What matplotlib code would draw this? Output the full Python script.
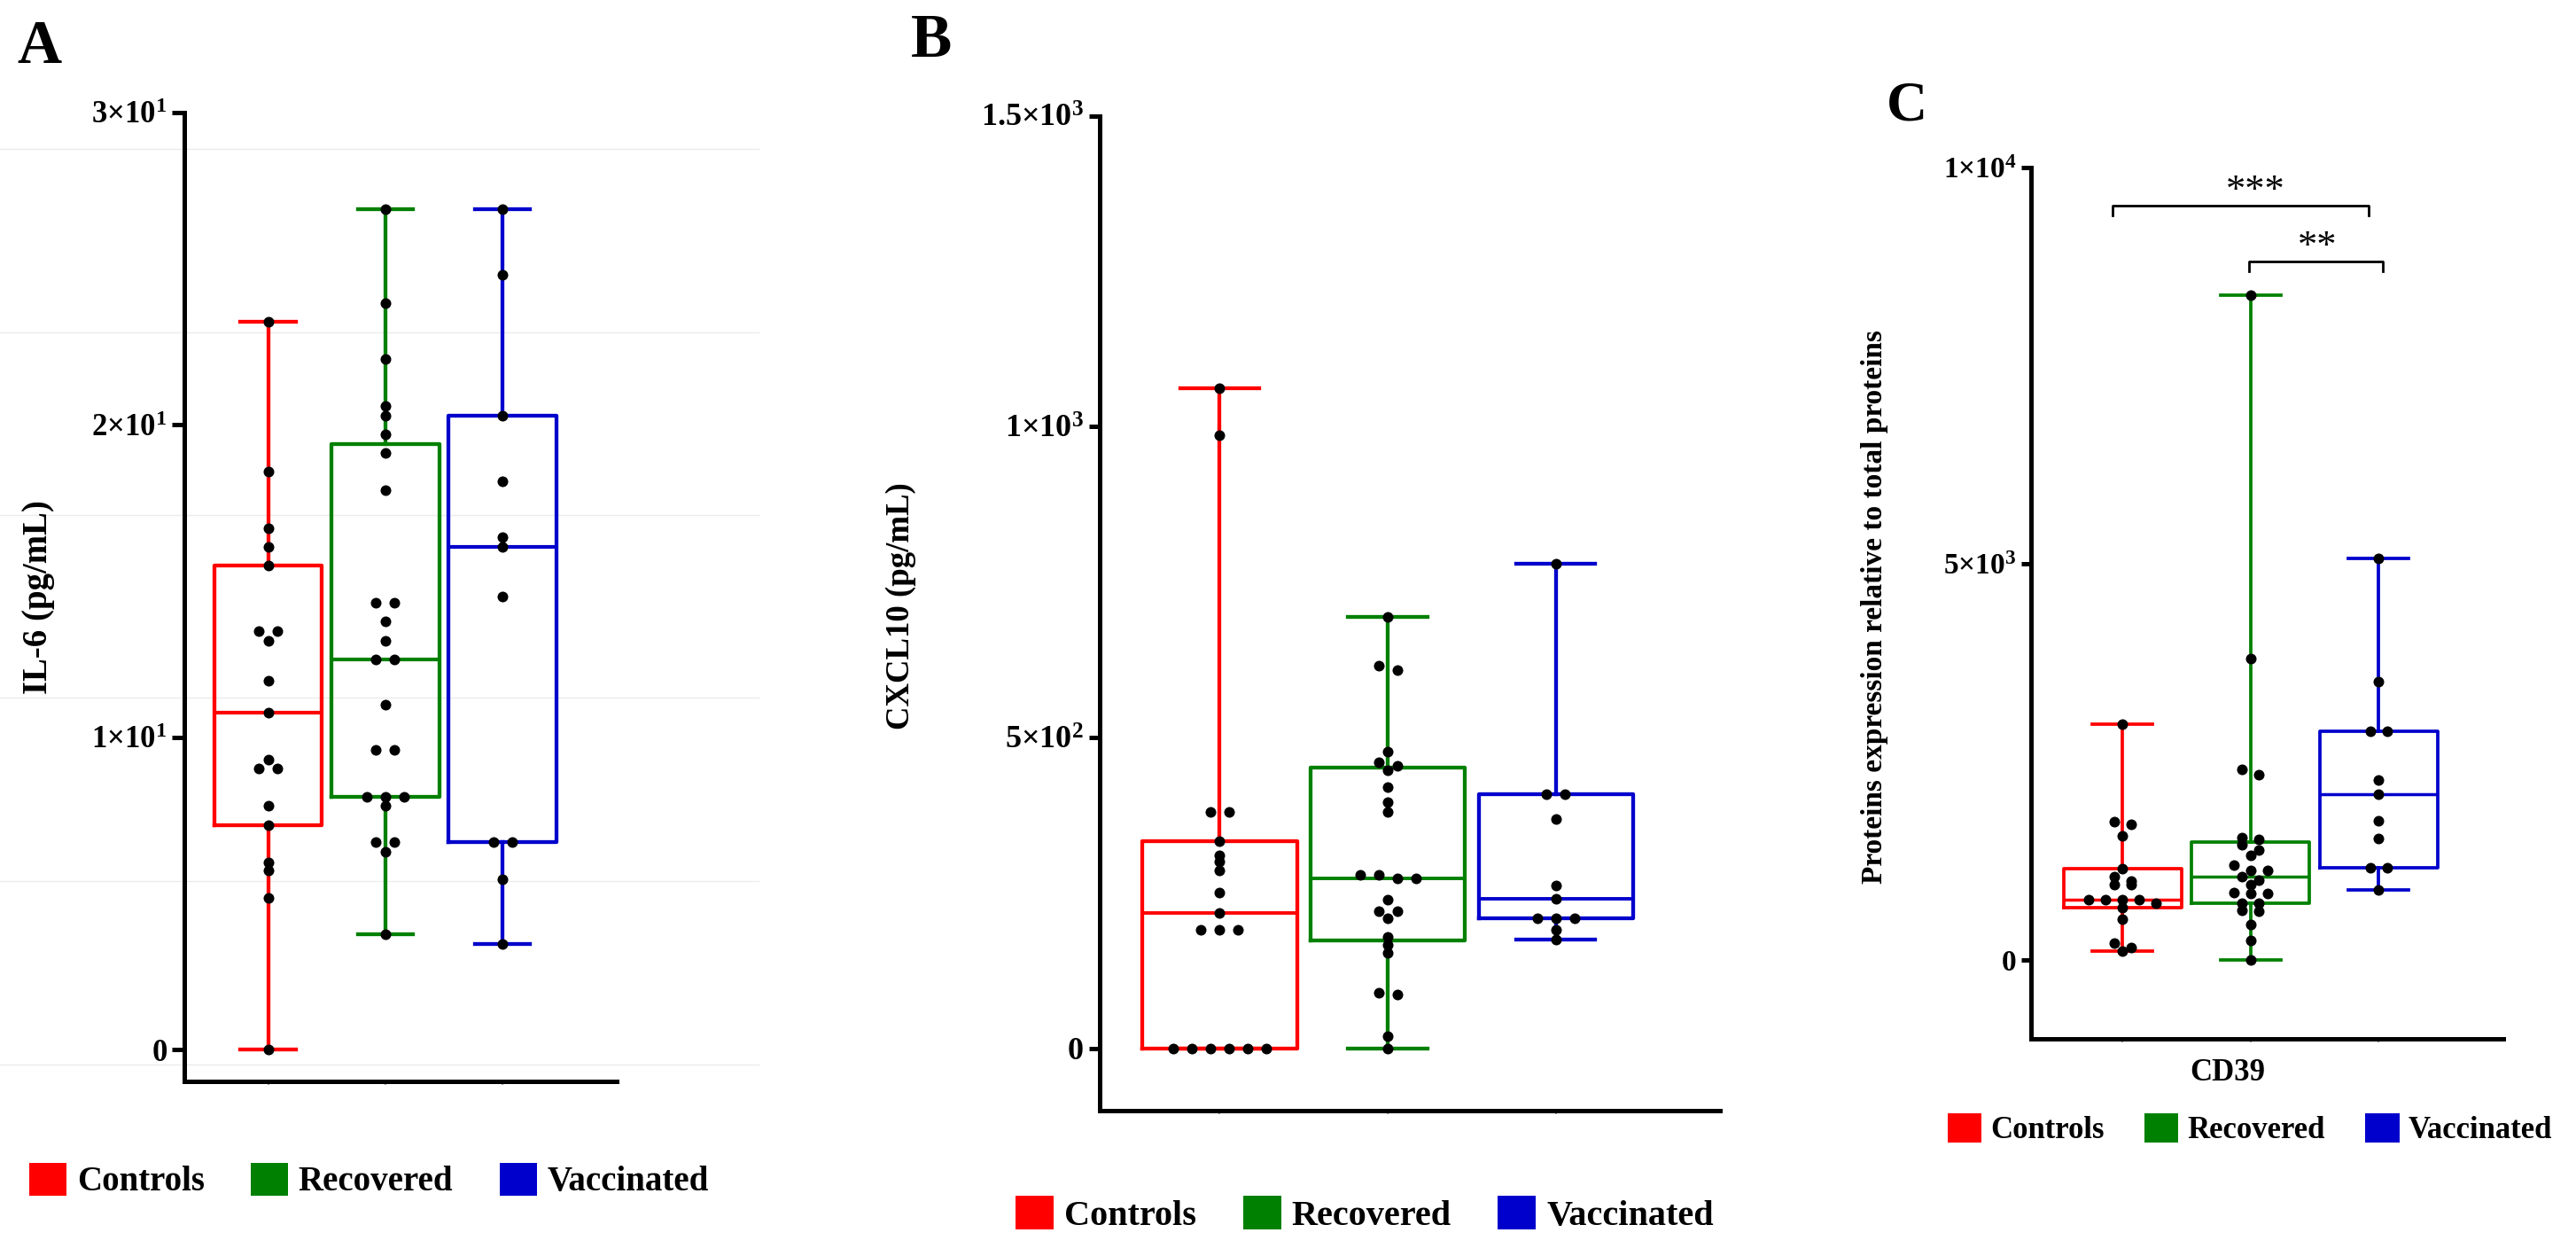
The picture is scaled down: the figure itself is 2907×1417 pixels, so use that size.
import matplotlib
matplotlib.use("Agg")
import matplotlib.pyplot as plt
import numpy as np
from matplotlib.patches import Patch
from matplotlib.lines import Line2D

plt.rcParams['font.family'] = ['Liberation Serif', 'DejaVu Serif']
plt.rcParams['font.weight'] = 'bold'
plt.rcParams['axes.labelweight'] = 'bold'
plt.rcParams['mathtext.fontset'] = 'custom'
plt.rcParams['mathtext.rm'] = 'Liberation Serif:bold'
plt.rcParams['mathtext.bf'] = 'Liberation Serif:bold'
plt.rcParams['mathtext.it'] = 'Liberation Serif:bold'

# Groups and colours
groups = ["Controls", "Recovered", "Vaccinated"]
colors = ["#ff0000", "#008000", "#0000cc"]

# Panel A: IL-6 (pg/mL)
il6_controls = [23.3, 18.5, 16.7, 16.1, 15.5, 13.4, 13.4, 13.1, 11.8, 10.8,
                9.3, 9.0, 9.0, 7.8, 7.2, 6.0, 5.75, 4.85, 0.0]
il6_recovered = [26.9, 23.9, 22.1, 20.6, 20.3, 19.7, 19.1, 17.9, 14.3, 14.3,
                 13.7, 13.1, 12.5, 12.5, 11.05, 9.6, 9.6, 8.1, 8.1, 8.1,
                 7.8, 6.65, 6.65, 6.35, 3.7]
il6_vaccinated = [26.9, 24.8, 20.3, 18.2, 16.4, 16.1, 14.5, 6.65, 6.65, 5.45, 3.4]

# Panel B: CXCL10 (pg/mL)
cxcl10_controls = [1062, 986, 381, 381, 333, 310, 300, 286, 251, 218,
                   190, 190, 190, 0, 0, 0, 0, 0, 0]
cxcl10_recovered = [694, 615, 608, 477, 460, 455, 448, 420, 396, 380,
                    279, 279, 274, 274, 239, 221, 221, 209, 179, 167,
                    154, 89, 86, 19, 0]
cxcl10_vaccinated = [780, 409, 409, 369, 262, 240, 209, 209, 209, 191, 175]

# Panel C: CD39 protein expression
cd39_controls = [2973, 1741, 1710, 1561, 1153, 1051, 996, 949, 949, 761,
                 761, 761, 761, 714, 651, 510, 204, 149, 110]
cd39_recovered = [8392, 3796, 2400, 2329, 1540, 1518, 1451, 1384, 1317, 1194,
                  1127, 1127, 1049, 1004, 949, 848, 837, 837, 714, 714,
                  625, 614, 446, 246, 0]
cd39_vaccinated = [5067, 3506, 2878, 2878, 2267, 2086, 1757, 1529, 1161, 1161, 878]

il6_ticks = [0, 10, 20, 30]
il6_ticklabels = ["0", r"1×10$^{1}$", r"2×10$^{1}$", r"3×10$^{1}$"]
cxcl10_ticks = [0, 500, 1000, 1500]
cxcl10_ticklabels = ["0", r"5×10$^{2}$", r"1×10$^{3}$", r"1.5×10$^{3}$"]
cd39_ticks = [0, 5000, 10000]
cd39_ticklabels = ["0", r"5×10$^{3}$", r"1×10$^{4}$"]

# significance brackets in panel C: x start, x end, bar height, label, label x
cd39_brackets = [(-0.08, 1.92, 9520, "***", 1.04),
                 (0.99, 2.03, 8815, "**", 1.52)]

W, H = 2907, 1417
fig = plt.figure(figsize=(W / 100, H / 100), dpi=100)

# faint background rules behind panel A
for k in range(6):
    y = 1 - (168 + k * 206.5) / H
    fig.add_artist(Line2D([0, 856 / W], [y, y], transform=fig.transFigure,
                          color="#ebebeb", lw=1.0, zorder=-10))

XLIM = (-0.715, 2.975)


def swarm_x(values, center, px_x, px_y, step_px, tol_px=7.0):
    vals = np.asarray(values, float)
    order = np.argsort(-vals, kind="stable")
    xs = np.full(len(vals), float(center))
    group = []

    def flush(g):
        n = len(g)
        for k, idx in enumerate(g):
            xs[idx] = center + (k - (n - 1) / 2) * step_px / px_x

    for idx in order:
        if group and (vals[group[0]] - vals[idx]) * px_y > tol_px:
            flush(group)
            group = []
        group.append(idx)
    flush(group)
    return xs


def draw_panel(ax, series, ylim, ticks, ticklabels, ylabel, ylabel_fs,
               lw_box, lw_med, tick_len, tick_fs, step_px, label_coords):
    ax.set_xlim(*XLIM)
    ax.set_ylim(*ylim)
    ax.set_facecolor("none")
    pos = ax.get_position()
    px_x = pos.width * W / (XLIM[1] - XLIM[0])
    px_y = pos.height * H / (ylim[1] - ylim[0])

    stats = []
    for vals in series:
        q1, med, q3 = np.percentile(vals, [25, 50, 75], method="weibull")
        stats.append(dict(med=med, q1=q1, q3=q3,
                          whislo=min(vals), whishi=max(vals), fliers=[]))
    art = ax.bxp(stats, positions=[0, 1, 2], widths=0.92, capwidths=0.47,
                 showfliers=False, manage_ticks=False)
    for i, c in enumerate(colors):
        art["boxes"][i].set(color=c, lw=lw_box, zorder=2)
        art["medians"][i].set(color=c, lw=lw_med, zorder=2)
        for j in (2 * i, 2 * i + 1):
            art["whiskers"][j].set(color=c, lw=lw_box, zorder=2)
            art["caps"][j].set(color=c, lw=lw_box, zorder=2)

    for i, vals in enumerate(series):
        xs = swarm_x(vals, i, px_x, px_y, step_px)
        ax.scatter(xs, vals, s=75, color="black", linewidths=0, zorder=4)

    for s in ("top", "right"):
        ax.spines[s].set_visible(False)
    for s in ("left", "bottom"):
        ax.spines[s].set_linewidth(3.6)
        ax.spines[s].set_color("black")
    ax.set_yticks(ticks, ticklabels)
    ax.tick_params(axis="y", length=tick_len, width=3.6, pad=4,
                   labelsize=tick_fs)
    ax.set_xticks([0, 1, 2], ["", "", ""])
    ax.tick_params(axis="x", length=3, width=1.5, color="#999999")
    ax.set_ylabel(ylabel, fontsize=ylabel_fs, fontweight="bold")
    ax.yaxis.set_label_coords(*label_coords)


axA = fig.add_axes([208 / W, 1 - 1219.6 / H, 488 / W, 1092.7 / H])
axB = fig.add_axes([1240.6 / W, 1 - 1252.9 / H, 700.3 / W, 1122.3 / H])
axC = fig.add_axes([2292.1 / W, 1 - 1171.9 / H, 533 / W, 982.8 / H])

draw_panel(axA, [il6_controls, il6_recovered, il6_vaccinated], (-1.0, 30),
           il6_ticks, il6_ticklabels, "IL-6 (pg/mL)", 28, 3.1, 3.0, 10, 25,
           21, (-0.299, 0.5))
draw_panel(axB, [cxcl10_controls, cxcl10_recovered, cxcl10_vaccinated],
           (-100, 1500), cxcl10_ticks, cxcl10_ticklabels, "CXCL10 (pg/mL)",
           26.5, 3.1, 2.8, 9, 26, 21, (-0.295, 0.507))
draw_panel(axC, [cd39_controls, cd39_recovered, cd39_vaccinated],
           (-1000, 10000), cd39_ticks, cd39_ticklabels,
           "Proteins expression relative to total proteins", 24,
           2.7, 2.5, 8, 24, 19, (-0.302, 0.496))

axC.set_xlabel("CD39", fontsize=25, fontweight="bold")
axC.xaxis.set_label_coords(0.4165, -0.022)

for x0, x1, y, lab, lx in cd39_brackets:
    axC.plot([x0, x0, x1, x1], [y - 120, y, y, y - 120], color="black",
             lw=2, clip_on=False, zorder=5)
    axC.text(lx, y - 40, lab, ha="center", va="bottom", fontsize=32,
             fontweight="normal")

# panel letters
fig.text(19 / W, 1 - 71 / H, "A", fontsize=50, ha="left", va="baseline")
fig.text(1028 / W, 1 - 64 / H, "B", fontsize=50, ha="left", va="baseline")
fig.text(2129 / W, 1 - 135 / H, "C", fontsize=46, ha="left", va="baseline")

# legends
handles = [Patch(facecolor=c, edgecolor="none", label=g)
           for g, c in zip(groups, colors)]
for anchor, fs, hl, cs in [((33 / W, 1 - 1332 / H), 28, 1.08, 1.35),
                           ((1146 / W, 1 - 1370 / H), 29, 1.07, 1.3),
                           ((2198 / W, 1 - 1274 / H), 25, 1.1, 1.3)]:
    fig.legend(handles=handles, loc="center left", bbox_to_anchor=anchor,
               ncol=3, frameon=False, fontsize=fs, handlelength=hl,
               handleheight=hl, handletextpad=0.3, columnspacing=cs,
               borderpad=0, borderaxespad=0)

fig.savefig("out.png", dpi=100)
